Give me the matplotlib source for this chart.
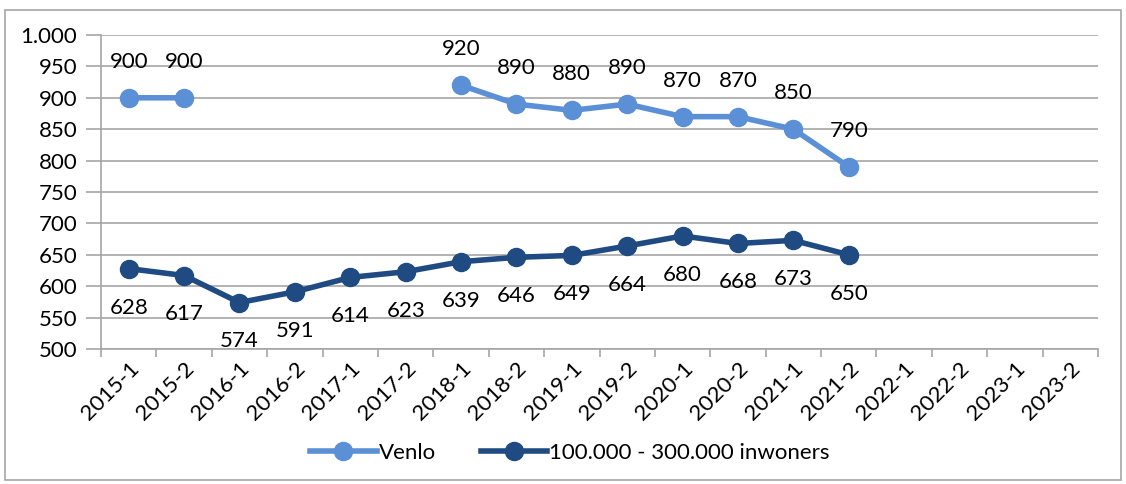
import matplotlib.pyplot as plt
from matplotlib.patches import Rectangle
from matplotlib.ticker import FuncFormatter, MultipleLocator
import numpy as np

plt.rcParams['font.family'] = ['Lato', 'DejaVu Sans']

periods = ['2015-1', '2015-2', '2016-1', '2016-2', '2017-1', '2017-2',
           '2018-1', '2018-2', '2019-1', '2019-2', '2020-1', '2020-2',
           '2021-1', '2021-2', '2022-1', '2022-2', '2023-1', '2023-2']
venlo = [900, 900, None, None, None, None, 920, 890, 880, 890, 870, 870,
         850, 790, None, None, None, None]
gemeenten = [628, 617, 574, 591, 614, 623, 639, 646, 649, 664, 680, 668,
             673, 650, None, None, None, None]

c_venlo = '#5B8FD6'
c_groep = '#1F4B82'
fs = 16

fig = plt.figure(figsize=(11.26, 4.84), dpi=100)
ax = fig.add_axes([101/1126, 1-349/484, (1098-101)/1126, (349-35)/484])

# rand om de hele grafiek
fig.patches.append(Rectangle((5/1126, 4/484), 1116/1126, 470/484,
                             transform=fig.transFigure, fill=False,
                             edgecolor='#A6A6A6', linewidth=1.2))

x = np.arange(len(periods))
v = np.array([np.nan if a is None else a for a in venlo], dtype=float)
g = np.array([np.nan if a is None else a for a in gemeenten], dtype=float)

ax.plot(x, v, '-o', color=c_venlo, linewidth=4, markersize=13,
        label='Venlo', zorder=3)
ax.plot(x, g, '-o', color=c_groep, linewidth=4, markersize=13,
        label='100.000 - 300.000 inwoners', zorder=3)

for xi, val in zip(x, venlo):
    if val is not None:
        ax.annotate(str(val), (xi, val), xytext=(0, 26), textcoords='offset points',
                    ha='center', va='center', fontsize=fs)
for xi, val in zip(x, gemeenten):
    if val is not None:
        ax.annotate(str(val), (xi, val), xytext=(0, -28), textcoords='offset points',
                    ha='center', va='center', fontsize=fs)

ax.set_xlim(-0.5, len(periods) - 0.5)
ax.set_ylim(500, 1000)
ax.yaxis.set_major_locator(MultipleLocator(50))
ax.yaxis.set_major_formatter(FuncFormatter(lambda y, p: f'{int(y):,}'.replace(',', '.')))
ax.grid(True, axis='y', color='#A6A6A6', linewidth=1.2)
ax.set_axisbelow(True)

ax.set_xticks(np.arange(len(periods) + 1) - 0.5)
ax.set_xticklabels([])
ax.set_xticks(x, minor=True)
ax.set_xticklabels(periods, minor=True, rotation=45, ha='right',
                   rotation_mode='anchor', fontsize=fs)
ax.tick_params(axis='x', which='minor', length=0, pad=7)
ax.tick_params(axis='x', which='major', length=6, color='#A6A6A6', width=1.2)
ax.tick_params(axis='y', length=11, color='#A6A6A6', width=1.2, labelsize=fs, pad=6)

for s in ['top', 'right']:
    ax.spines[s].set_visible(False)
for s in ['left', 'bottom']:
    ax.spines[s].set_color('#A6A6A6')
    ax.spines[s].set_linewidth(1.2)

fig.legend(loc='center', bbox_to_anchor=(570/1126, 1-453/484), ncol=2,
           frameon=False, fontsize=fs, handlelength=3, columnspacing=2.0,
           handletextpad=0.1)

fig.savefig('out.png', dpi=100)
